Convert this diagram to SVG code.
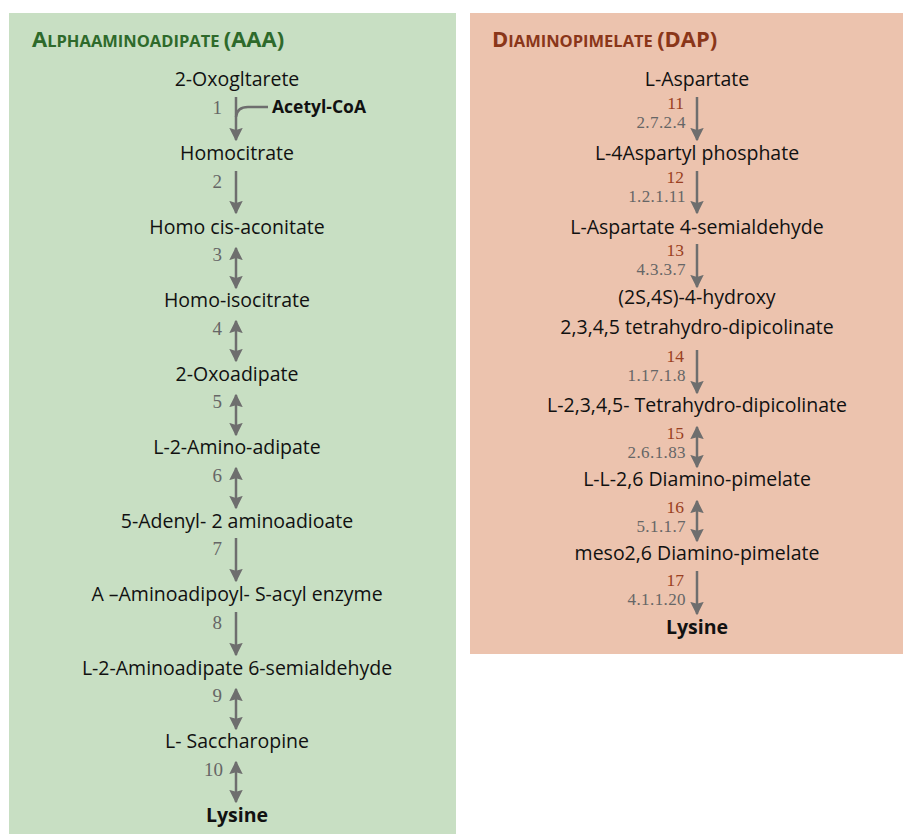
<svg xmlns="http://www.w3.org/2000/svg" width="903" height="834" viewBox="0 0 903 834">
<defs>
<marker id="ah" viewBox="0 0 10 10" refX="9" refY="5" markerWidth="5.4" markerHeight="5.4" orient="auto-start-reverse" markerUnits="strokeWidth">
<path d="M0,0 L10,5 L0,10 L1.5,5 Z" fill="#6e6e6e"/>
</marker>
<style>
.lbl{font-family:"Open Sans","Noto Sans",sans-serif;font-size:19.5px;fill:#111;text-anchor:middle}
.bold{font-weight:bold}
.num{font-family:"Liberation Serif","DejaVu Serif",serif;font-size:19px;fill:#666}
.rn{font-family:"Liberation Serif","DejaVu Serif",serif;font-size:17.5px;fill:#9a3f22;text-anchor:end}
.ec{font-family:"Liberation Serif","DejaVu Serif",serif;font-size:17px;fill:#666;text-anchor:end;letter-spacing:0.4px}
.ttl{font-family:"Open Sans","Noto Sans",sans-serif;font-weight:bold;font-size:16.5px}
.ar{stroke:#6e6e6e;stroke-width:2.5;fill:none}
</style>
</defs>
<rect width="903" height="834" fill="#fff"/>
<rect x="9" y="13" width="447" height="821" fill="#c8dfc3"/>
<rect x="470" y="13" width="433" height="641" fill="#ecc3ae"/>
<text x="32" y="47" class="ttl" fill="#2e6a2b"><tspan font-size="22">A</tspan>LPHAAMINOADIPATE <tspan font-size="22">(AAA)</tspan></text>
<text x="492" y="47" class="ttl" fill="#8a3619"><tspan font-size="22">D</tspan>IAMINOPIMELATE <tspan font-size="22">(DAP)</tspan></text>

<g id="connectors">
<path class="ar" d="M236,97 V140" marker-end="url(#ah)"/>
<path class="ar" d="M236,117 Q237,107 248,107 H268" stroke-width="2"/>
<path class="ar" d="M236,171 V213" marker-end="url(#ah)"/>
<path class="ar" d="M236,248 V288" marker-start="url(#ah)" marker-end="url(#ah)"/>
<path class="ar" d="M236,321 V361" marker-start="url(#ah)" marker-end="url(#ah)"/>
<path class="ar" d="M236,395 V435" marker-start="url(#ah)" marker-end="url(#ah)"/>
<path class="ar" d="M236,468 V508" marker-start="url(#ah)" marker-end="url(#ah)"/>
<path class="ar" d="M236,538 V581" marker-end="url(#ah)"/>
<path class="ar" d="M236,612 V655" marker-end="url(#ah)"/>
<path class="ar" d="M236,689 V729" marker-start="url(#ah)" marker-end="url(#ah)"/>
<path class="ar" d="M236,762 V802" marker-start="url(#ah)" marker-end="url(#ah)"/>

<path class="ar" d="M697,97 V140" marker-end="url(#ah)"/>
<path class="ar" d="M697,171 V213" marker-end="url(#ah)"/>
<path class="ar" d="M697,244 V287" marker-end="url(#ah)"/>
<path class="ar" d="M697,350 V393" marker-end="url(#ah)"/>
<path class="ar" d="M697,427 V467" marker-start="url(#ah)" marker-end="url(#ah)"/>
<path class="ar" d="M697,501 V541" marker-start="url(#ah)" marker-end="url(#ah)"/>
<path class="ar" d="M697,571 V614" marker-end="url(#ah)"/>
</g>

<g id="aaa-steps">
<text x="222" y="114" class="num" text-anchor="end">1</text>
<text x="222" y="188" class="num" text-anchor="end">2</text>
<text x="222" y="261" class="num" text-anchor="end">3</text>
<text x="222" y="335" class="num" text-anchor="end">4</text>
<text x="222" y="408" class="num" text-anchor="end">5</text>
<text x="222" y="482" class="num" text-anchor="end">6</text>
<text x="222" y="555" class="num" text-anchor="end">7</text>
<text x="222" y="629" class="num" text-anchor="end">8</text>
<text x="222" y="702" class="num" text-anchor="end">9</text>
<text x="223" y="776" class="num" text-anchor="end">10</text>
</g>
<g id="acetyl-coa"><text x="272" y="113" class="lbl bold" style="text-anchor:start;font-size:17.5px">Acetyl-CoA</text></g>
<g id="n-oxogltarete"><text x="237" y="86" class="lbl">2-Oxogltarete</text></g>
<g id="n-homocitrate"><text x="237" y="160" class="lbl">Homocitrate</text></g>
<g id="n-homo-cis"><text x="237" y="234" class="lbl">Homo cis-aconitate</text></g>
<g id="n-homo-iso"><text x="237" y="307" class="lbl">Homo-isocitrate</text></g>
<g id="n-oxoadipate"><text x="237" y="381" class="lbl">2-Oxoadipate</text></g>
<g id="n-aminoadipate"><text x="237" y="454" class="lbl">L-2-Amino-adipate</text></g>
<g id="n-adenyl"><text x="237" y="528" class="lbl">5-Adenyl- 2 aminoadioate</text></g>
<g id="n-acyl"><text x="237" y="601" class="lbl">A –Aminoadipoyl- S-acyl enzyme</text></g>
<g id="n-semialdehyde"><text x="237" y="675" class="lbl">L-2-Aminoadipate 6-semialdehyde</text></g>
<g id="n-saccharopine"><text x="237" y="748" class="lbl">L- Saccharopine</text></g>
<g id="n-lysine-aaa"><text x="237" y="822" class="lbl bold">Lysine</text></g>

<g id="dap-steps">
<text x="684" y="109" class="rn">11</text><text x="686" y="128" class="ec">2.7.2.4</text>
<text x="684" y="183" class="rn">12</text><text x="686" y="202" class="ec">1.2.1.11</text>
<text x="684" y="256" class="rn">13</text><text x="686" y="275" class="ec">4.3.3.7</text>
<text x="684" y="362" class="rn">14</text><text x="686" y="381" class="ec">1.17.1.8</text>
<text x="684" y="439" class="rn">15</text><text x="686" y="458" class="ec">2.6.1.83</text>
<text x="684" y="513" class="rn">16</text><text x="686" y="532" class="ec">5.1.1.7</text>
<text x="684" y="586" class="rn">17</text><text x="686" y="605" class="ec">4.1.1.20</text>
</g>
<g id="n-aspartate"><text x="697" y="86" class="lbl">L-Aspartate</text></g>
<g id="n-aspartyl-p"><text x="697" y="160" class="lbl">L-4Aspartyl phosphate</text></g>
<g id="n-asp-semi"><text x="697" y="234" class="lbl">L-Aspartate 4-semialdehyde</text></g>
<g id="n-hydroxy"><text x="697" y="304" class="lbl">(2S,4S)-4-hydroxy</text><text x="697" y="334" class="lbl">2,3,4,5 tetrahydro-dipicolinate</text></g>
<g id="n-tetrahydro"><text x="697" y="412" class="lbl">L-2,3,4,5- Tetrahydro-dipicolinate</text></g>
<g id="n-ll-dap"><text x="697" y="486" class="lbl">L-L-2,6 Diamino-pimelate</text></g>
<g id="n-meso-dap"><text x="697" y="560" class="lbl">meso2,6 Diamino-pimelate</text></g>
<g id="n-lysine-dap"><text x="697" y="634" class="lbl bold">Lysine</text></g>
</svg>
